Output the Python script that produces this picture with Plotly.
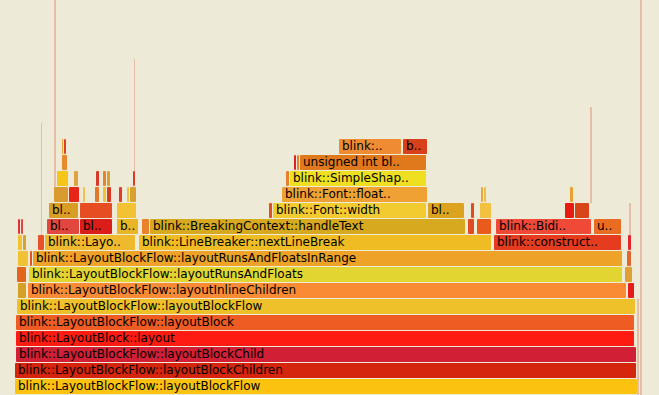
import plotly.graph_objects as go

BG = "#EDEBD7"

# ---- flame graph frames (x in samples, depth = stack level from bottom) ----
frame_depth = [
    0, 1, 2, 3, 4, 5,
    6, 6, 6,
    7, 7, 7,
    8, 8, 8, 8,
    9, 9, 9, 9, 9, 9, 9,
    10, 10, 10, 10, 10, 10, 10, 10, 10, 10, 10,
    11, 11, 11, 11, 11, 11, 11, 11, 11, 11,
    12, 12, 12, 12, 12, 12, 12, 12, 12, 12, 12, 12, 12,
    13, 13, 13, 13, 13, 13, 13, 13,
    14, 14, 14, 14,
    15, 15, 15, 15,
]
frame_start = [
    15, 15, 16, 16, 16, 17,
    18, 28, 628,
    17, 29, 625,
    18, 30, 33, 627,
    18, 23, 38, 45, 139, 494, 628,
    18, 21, 47, 80, 117, 142, 150, 468, 477, 496, 594,
    49, 80, 117, 269, 273, 428, 471, 480, 565, 575,
    54, 69, 83, 95, 103, 107, 119, 127, 130, 282, 481, 484, 570,
    57, 74, 96, 103, 107, 133, 286, 290,
    62, 294, 297, 300,
    62, 64, 339, 403,
]
frame_width = [
    623, 622, 621, 619, 619, 619,
    9, 599, 7,
    10, 594, 8,
    11, 3, 590, 5,
    5, 4, 7, 91, 353, 128, 4,
    3, 3, 33, 33, 22, 8, 316, 7, 15, 96, 28,
    30, 33, 20, 4, 154, 37, 4, 12, 10, 15,
    15, 11, 3, 5, 4, 5, 4, 3, 7, 146, 3, 3, 4,
    12, 5, 4, 4, 4, 3, 4, 137,
    6, 3, 3, 127,
    2, 3, 63, 25,
]
frame_label = [
    "blink::LayoutBlockFlow::layoutBlockFlow",
    "blink::LayoutBlockFlow::layoutBlockChildren",
    "blink::LayoutBlockFlow::layoutBlockChild",
    "blink::LayoutBlock::layout",
    "blink::LayoutBlockFlow::layoutBlock",
    "blink::LayoutBlockFlow::layoutBlockFlow",
    "", "blink::LayoutBlockFlow::layoutInlineChildren", "",
    "", "blink::LayoutBlockFlow::layoutRunsAndFloats", "",
    "", "", "blink::LayoutBlockFlow::layoutRunsAndFloatsInRange", "",
    "", "", "", "blink::Layo..", "blink::LineBreaker::nextLineBreak", "blink::construct..", "",
    "", "", "bl..", "bl..", "b..", "", "blink::BreakingContext::handleText", "", "", "blink::Bidi..", "u..",
    "bl..", "", "", "", "blink::Font::width", "bl..", "", "", "", "",
    "", "", "", "", "", "", "", "", "", "blink::Font::float..", "", "", "",
    "", "", "", "", "", "", "", "blink::SimpleShap..",
    "", "", "", "unsigned int bl..",
    "", "", "blink:..", "b..",
]
frame_color = [
    "#FCC210", "#D5250C", "#D11F35", "#FE1B12", "#EE5B23", "#EEC12A",
    "#D5A028", "#F98B35", "#E41C1C",
    "#E2651C", "#E3D531", "#DFA136",
    "#F1C233", "#E2541C", "#EEA227", "#E0652E",
    "#F2C331", "#D9A131", "#E8512A", "#EFB92E", "#F0BC24", "#E53B1F", "#E0252B",
    "#E03232", "#E04848", "#E1473F", "#DB1D19", "#E7B525", "#E8832B", "#D7A91F",
    "#E04B23", "#E85B1D", "#F04937", "#E86D23",
    "#D99D23", "#E64D23", "#F2C233", "#E05121", "#F2CB31", "#DCA31F",
    "#E04B23", "#F2C141", "#E81B13", "#D84519",
    "#D99B2F", "#E82519", "#F0C151", "#E0792B", "#F2C233", "#D83B21",
    "#E03B2B", "#F0C141", "#D8A131", "#F0A133", "#F0A141", "#E8C141", "#E8A131",
    "#F5C51B", "#E0A141", "#D83B29", "#E8832B", "#D8A131", "#D83B29", "#E8812F", "#EEE021",
    "#E8892F", "#E02121", "#E8812F", "#E0791B",
    "#F0A131", "#D84121", "#EE8B33", "#D6411B",
]

# ---- very narrow, deep stacks (spikes) ----
spike_x = [41.5, 55, 134.5, 591, 630, 638, 641]
spike_from = [10, 13, 14, 12, 10, 0, 0]
spike_to = [16, 24, 20, 17, 11, 5, 24]

fig = go.Figure()

fig.add_trace(go.Bar(
    orientation="h",
    y=frame_depth,
    x=frame_width,
    base=frame_start,
    marker=dict(color=frame_color, line=dict(color=BG, width=1), cornerradius=2),
    hoverinfo="skip",
    width=1.0,
))

spike_center = [(a + b) / 2 for a, b in zip(spike_from, spike_to)]
spike_span = [b - a + 1 for a, b in zip(spike_from, spike_to)]
fig.add_trace(go.Bar(
    orientation="h",
    y=spike_center,
    x=[1.4] * len(spike_x),
    base=[sx - 0.7 for sx in spike_x],
    width=spike_span,
    marker=dict(color="rgba(225,135,105,0.45)", line=dict(width=0)),
    hoverinfo="skip",
))

lab_x = [s + 3 for s, l in zip(frame_start, frame_label) if l]
lab_y = [d for d, l in zip(frame_depth, frame_label) if l]
lab_t = [l for l in frame_label if l]
fig.add_trace(go.Scatter(
    x=lab_x, y=lab_y, text=lab_t, mode="text",
    textposition="middle right",
    textfont=dict(family="DejaVu Sans, Verdana, sans-serif", size=12, color="#000000"),
    hoverinfo="skip",
))

fig.update_layout(
    width=659, height=395,
    margin=dict(l=0, r=0, t=0, b=0),
    paper_bgcolor=BG, plot_bgcolor=BG,
    barmode="overlay", bargap=0,
    showlegend=False,
    xaxis=dict(visible=False, range=[0, 659], fixedrange=True),
    yaxis=dict(visible=False, range=[-0.5, 24.1875], fixedrange=True),
)

fig.write_html(
    "out.html",
    post_script="document.body.style.margin='0';document.body.style.background='%s';" % BG,
    config={"displayModeBar": False},
)
